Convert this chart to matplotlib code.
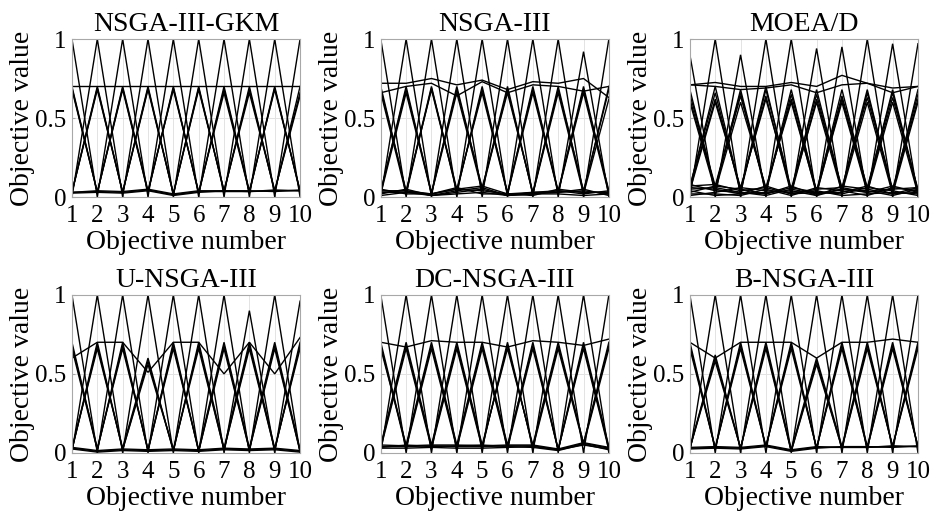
import matplotlib
matplotlib.use("Agg")
import matplotlib.pyplot as plt

plt.rcParams['font.family'] = ['Liberation Serif', 'DejaVu Serif']

objectives = [1, 2, 3, 4, 5, 6, 7, 8, 9, 10]
titles = ["NSGA-III-GKM", "NSGA-III", "MOEA/D", "U-NSGA-III", "DC-NSGA-III", "B-NSGA-III"]
yticks = [0, 0.5, 1]
ytick_labels = ["0", "0.5", "1"]

# ---------- NSGA-III-GKM ----------
gkm_peaks = [
    [1, 0, 1, 0, 1, 0, 1, 0, 1, 0],
    [0, 1, 0, 1, 0, 1, 0, 1, 0, 1],
]
gkm_mid = [
    [0.70, 0.03, 0.68, 0.03, 0.70, 0.02, 0.70, 0.03, 0.70, 0.03],
    [0.68, 0.03, 0.70, 0.04, 0.68, 0.03, 0.68, 0.04, 0.68, 0.04],
    [0.69, 0.03, 0.69, 0.03, 0.69, 0.03, 0.66, 0.03, 0.69, 0.04],
    [0.03, 0.70, 0.03, 0.70, 0.02, 0.70, 0.03, 0.70, 0.03, 0.70],
    [0.03, 0.68, 0.03, 0.68, 0.02, 0.68, 0.04, 0.66, 0.04, 0.66],
    [0.03, 0.69, 0.03, 0.69, 0.02, 0.69, 0.04, 0.68, 0.04, 0.64],
]
gkm_upper = [
    [0.70, 0.70, 0.70, 0.70, 0.70, 0.70, 0.70, 0.70, 0.70, 0.70],
]
gkm_low = [
    [0.030, 0.035, 0.030, 0.045, 0.015, 0.035, 0.035, 0.035, 0.040, 0.040],
    [0.025, 0.030, 0.025, 0.040, 0.010, 0.030, 0.040, 0.040, 0.035, 0.045],
    [0.030, 0.040, 0.035, 0.050, 0.020, 0.040, 0.040, 0.035, 0.045, 0.040],
]

# ---------- NSGA-III ----------
nsga3_peaks = [
    [1, 0, 1, 0, 1, 0, 1, 0, 0.92, 0],
    [0, 1, 0, 1, 0, 1, 0, 1, 0, 1],
]
nsga3_mid = [
    [0.70, 0.03, 0.70, 0.03, 0.70, 0.02, 0.70, 0.03, 0.70, 0.03],
    [0.68, 0.04, 0.68, 0.04, 0.68, 0.03, 0.68, 0.04, 0.68, 0.04],
    [0.66, 0.02, 0.69, 0.05, 0.66, 0.02, 0.66, 0.03, 0.66, 0.02],
    [0.03, 0.70, 0.02, 0.70, 0.05, 0.70, 0.02, 0.70, 0.03, 0.70],
    [0.04, 0.68, 0.03, 0.68, 0.06, 0.66, 0.03, 0.68, 0.04, 0.68],
    [0.02, 0.66, 0.02, 0.66, 0.04, 0.68, 0.02, 0.66, 0.02, 0.62],
]
nsga3_upper = [
    [0.72, 0.72, 0.75, 0.71, 0.74, 0.68, 0.73, 0.72, 0.75, 0.63],
    [0.66, 0.70, 0.72, 0.64, 0.73, 0.66, 0.71, 0.70, 0.67, 0.70],
]
nsga3_low = [
    [0.04, 0.04, 0.01, 0.04, 0.06, 0.01, 0.02, 0.04, 0.03, 0.03],
    [0.03, 0.03, 0.02, 0.05, 0.07, 0.02, 0.02, 0.03, 0.04, 0.02],
    [0.02, 0.05, 0.01, 0.03, 0.05, 0.01, 0.03, 0.04, 0.02, 0.04],
    [0.05, 0.02, 0.02, 0.05, 0.04, 0.02, 0.01, 0.05, 0.03, 0.03],
    [0.01, 0.03, 0.01, 0.02, 0.03, 0.01, 0.02, 0.02, 0.01, 0.02],
    [0.03, 0.04, 0.02, 0.06, 0.02, 0.02, 0.03, 0.03, 0.05, 0.01],
]

# ---------- MOEA/D ----------
moead_peaks = [
    [0.90, 0, 0.90, 0, 1.00, 0, 0.95, 0, 0.97, 0],
    [0, 1.00, 0, 1.00, 0, 0.94, 0, 1.00, 0, 0.97],
]
moead_mid = [
    [0.68, 0.05, 0.68, 0.04, 0.68, 0.03, 0.68, 0.05, 0.68, 0.04],
    [0.65, 0.07, 0.66, 0.03, 0.65, 0.04, 0.64, 0.06, 0.66, 0.03],
    [0.62, 0.06, 0.64, 0.05, 0.62, 0.02, 0.62, 0.04, 0.63, 0.05],
    [0.60, 0.04, 0.60, 0.06, 0.60, 0.03, 0.60, 0.03, 0.60, 0.02],
    [0.06, 0.70, 0.04, 0.70, 0.03, 0.68, 0.05, 0.68, 0.03, 0.68],
    [0.07, 0.66, 0.03, 0.68, 0.05, 0.65, 0.04, 0.66, 0.05, 0.65],
    [0.05, 0.62, 0.05, 0.64, 0.02, 0.62, 0.06, 0.63, 0.04, 0.62],
    [0.04, 0.60, 0.06, 0.62, 0.04, 0.60, 0.03, 0.60, 0.02, 0.60],
]
moead_upper = [
    [0.71, 0.725, 0.70, 0.70, 0.725, 0.70, 0.77, 0.72, 0.69, 0.70],
    [0.71, 0.70, 0.68, 0.69, 0.71, 0.66, 0.71, 0.72, 0.66, 0.70],
]
moead_low = [
    [0.07, 0.08, 0.04, 0.06, 0.02, 0.05, 0.06, 0.03, 0.05, 0.06],
    [0.06, 0.05, 0.02, 0.03, 0.04, 0.01, 0.07, 0.05, 0.02, 0.03],
    [0.03, 0.07, 0.05, 0.02, 0.06, 0.03, 0.02, 0.06, 0.04, 0.01],
    [0.02, 0.02, 0.01, 0.05, 0.01, 0.06, 0.04, 0.01, 0.06, 0.04],
    [0.05, 0.06, 0.03, 0.01, 0.05, 0.02, 0.05, 0.04, 0.01, 0.05],
    [0.01, 0.03, 0.06, 0.04, 0.03, 0.04, 0.01, 0.02, 0.03, 0.02],
    [0.04, 0.01, 0.02, 0.07, 0.02, 0.03, 0.03, 0.07, 0.02, 0.06],
    [0.08, 0.04, 0.03, 0.02, 0.07, 0.01, 0.05, 0.03, 0.07, 0.03],
]

# ---------- U-NSGA-III ----------
unsga3_peaks = [
    [1, 0, 1, 0, 1, 0, 1, 0, 1, 0],
    [0, 1, 0, 1, 0, 1, 0, 0.90, 0, 0.96],
]
unsga3_mid = [
    [0.70, 0.02, 0.68, 0.02, 0.68, 0.01, 0.68, 0.02, 0.68, 0.01],
    [0.68, 0.03, 0.66, 0.02, 0.66, 0.02, 0.70, 0.03, 0.70, 0.02],
    [0.66, 0.02, 0.70, 0.01, 0.70, 0.01, 0.66, 0.02, 0.66, 0.01],
    [0.02, 0.68, 0.02, 0.58, 0.02, 0.68, 0.02, 0.68, 0.02, 0.68],
    [0.03, 0.66, 0.03, 0.60, 0.01, 0.70, 0.03, 0.70, 0.03, 0.66],
    [0.02, 0.70, 0.02, 0.56, 0.02, 0.66, 0.02, 0.66, 0.02, 0.70],
]
unsga3_upper = [
    [0.60, 0.70, 0.70, 0.51, 0.70, 0.70, 0.50, 0.70, 0.50, 0.73],
]
unsga3_low = [
    [0.030, 0.010, 0.020, 0.015, 0.020, 0.015, 0.025, 0.020, 0.025, 0.010],
    [0.025, 0.005, 0.015, 0.010, 0.015, 0.010, 0.020, 0.015, 0.020, 0.005],
    [0.035, 0.015, 0.025, 0.020, 0.025, 0.020, 0.030, 0.025, 0.030, 0.015],
]

# ---------- DC-NSGA-III ----------
dcnsga3_peaks = [
    [1, 0, 1, 0, 1, 0, 1, 0, 1, 0],
    [0, 1, 0, 1, 0, 1, 0, 1, 0, 1],
]
dcnsga3_mid = [
    [0.70, 0.04, 0.68, 0.04, 0.68, 0.04, 0.70, 0.02, 0.68, 0.03],
    [0.68, 0.03, 0.66, 0.03, 0.66, 0.03, 0.66, 0.02, 0.66, 0.02],
    [0.66, 0.05, 0.70, 0.05, 0.70, 0.05, 0.68, 0.02, 0.70, 0.04],
    [0.04, 0.68, 0.04, 0.68, 0.04, 0.68, 0.04, 0.68, 0.06, 0.68],
    [0.03, 0.66, 0.03, 0.66, 0.03, 0.70, 0.03, 0.66, 0.05, 0.66],
    [0.05, 0.70, 0.05, 0.70, 0.05, 0.66, 0.05, 0.70, 0.06, 0.70],
]
dcnsga3_upper = [
    [0.70, 0.67, 0.71, 0.70, 0.70, 0.67, 0.71, 0.70, 0.68, 0.72],
]
dcnsga3_low = [
    [0.040, 0.040, 0.045, 0.040, 0.040, 0.045, 0.045, 0.020, 0.060, 0.030],
    [0.030, 0.030, 0.035, 0.030, 0.030, 0.035, 0.040, 0.020, 0.050, 0.025],
    [0.050, 0.045, 0.050, 0.050, 0.045, 0.050, 0.050, 0.025, 0.065, 0.035],
    [0.035, 0.050, 0.040, 0.045, 0.050, 0.040, 0.035, 0.015, 0.055, 0.020],
]

# ---------- B-NSGA-III ----------
bnsga3_peaks = [
    [1, 0, 1, 0, 1, 0, 1, 0, 1, 0],
    [0, 1, 0, 1, 0, 1, 0, 1, 0, 1],
]
bnsga3_mid = [
    [0.70, 0.03, 0.68, 0.04, 0.68, 0.03, 0.68, 0.03, 0.68, 0.04],
    [0.68, 0.03, 0.66, 0.04, 0.70, 0.03, 0.70, 0.04, 0.70, 0.04],
    [0.66, 0.03, 0.70, 0.04, 0.66, 0.03, 0.66, 0.03, 0.66, 0.04],
    [0.03, 0.60, 0.03, 0.68, 0.01, 0.58, 0.03, 0.68, 0.04, 0.68],
    [0.03, 0.58, 0.03, 0.70, 0.02, 0.60, 0.04, 0.70, 0.04, 0.66],
    [0.03, 0.62, 0.03, 0.66, 0.01, 0.56, 0.03, 0.66, 0.04, 0.70],
]
bnsga3_upper = [
    [0.70, 0.60, 0.70, 0.70, 0.70, 0.60, 0.70, 0.70, 0.72, 0.70],
]
bnsga3_low = [
    [0.030, 0.035, 0.030, 0.045, 0.015, 0.035, 0.035, 0.035, 0.040, 0.040],
    [0.025, 0.030, 0.025, 0.040, 0.010, 0.030, 0.040, 0.040, 0.035, 0.045],
    [0.035, 0.040, 0.035, 0.050, 0.020, 0.040, 0.035, 0.035, 0.045, 0.040],
]

panels = [
    (gkm_peaks, gkm_mid, gkm_upper, gkm_low),
    (nsga3_peaks, nsga3_mid, nsga3_upper, nsga3_low),
    (moead_peaks, moead_mid, moead_upper, moead_low),
    (unsga3_peaks, unsga3_mid, unsga3_upper, unsga3_low),
    (dcnsga3_peaks, dcnsga3_mid, dcnsga3_upper, dcnsga3_low),
    (bnsga3_peaks, bnsga3_mid, bnsga3_upper, bnsga3_low),
]

fig = plt.figure(figsize=(9.31, 5.2), dpi=100)
lefts = [0.0773, 0.409, 0.741]
bottoms = [0.621, 0.129]
w, h = 0.245, 0.304

for i, (title, groups) in enumerate(zip(titles, panels)):
    r, c = divmod(i, 3)
    ax = fig.add_axes([lefts[c], bottoms[r], w, h])
    for group in groups:
        for vals in group:
            ax.plot(objectives, vals, color='black', lw=1.0, solid_joinstyle='miter')
    ax.set_xlim(1, 10)
    ax.set_ylim(0, 1)
    ax.set_xticks(objectives)
    ax.set_yticks(yticks)
    ax.set_yticklabels(ytick_labels)
    ax.grid(True, color='#e3e3e3', lw=0.7)
    ax.set_axisbelow(True)
    for s in ax.spines.values():
        s.set_color('#a8a8a8')
        s.set_linewidth(0.8)
    ax.tick_params(direction='in', length=2, color='#a8a8a8', labelsize=18, pad=4)
    ax.tick_params(axis='x', pad=6)
    ax.set_title(title, fontsize=20, pad=6)
    ax.set_xlabel("Objective number", fontsize=20, labelpad=2)
    ax.set_ylabel("Objective value", fontsize=20, labelpad=0)

fig.savefig("out.png", dpi=100)
